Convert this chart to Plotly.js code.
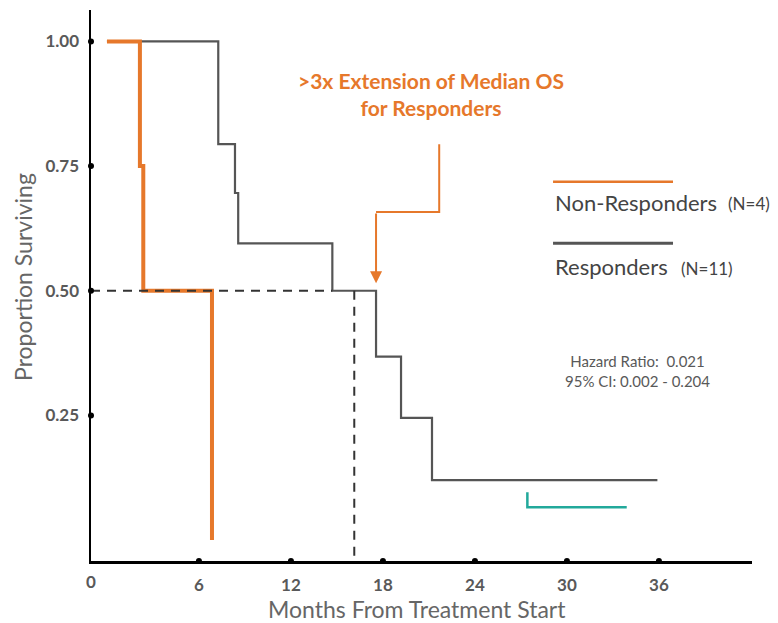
<!DOCTYPE html>
<html>
<head>
<meta charset="utf-8">
<script src="https://cdn.plot.ly/plotly-3.0.1.min.js"></script>
<style>html,body{margin:0;padding:0;background:#fff;}#chart{width:778px;height:623px;}</style>
</head>
<body>
<div id="chart"></div>
<script>
// ---- data ----
const nonRespMonths = [0, 2.15, 2.37, 6.85];
const nonRespSurv   = [1, 0.75, 0.50, 0.0];

const respMonths = [0, 7.26, 8.35, 8.56, 14.7, 17.55, 19.18, 21.2, 35.9];
const respSurv   = [1, 0.794, 0.696, 0.595, 0.50, 0.368, 0.245, 0.12, 0.12];

const medianHX = [-1.04, 14.7];
const medianHY = [0.5, 0.5];
const medianVX = [16.13, 16.13];
const medianVY = [0.5, -0.042];

const tealX = [27.42, 27.42, 33.9];
const tealY = [0.0957, 0.0656, 0.0656];

const calloutX = [21.67, 21.67, 17.55];
const calloutY = [0.794, 0.658, 0.658];
const arrowTip = [17.55, 0.515];

const xTicks = [6, 12, 18, 24, 30, 36];
const yTicks = [0.25, 0.50, 0.75, 1.00];
const yTickText = ['0.25', '0.50', '0.75', '1.00'];

const xRange = [-1.04, 42.07];
const yRange = [-0.042, 1.063];

const ORANGE = '#E6782B';
const GREY = '#555555';
const TEAL = '#22A99B';
const TXT = '#595959';
const FONT = 'Lato, "Open Sans", sans-serif';

const traces = [
  {x: respMonths, y: respSurv, mode: 'lines', line: {shape: 'hv', color: GREY, width: 2.2}, hoverinfo: 'skip'},
  {x: nonRespMonths, y: nonRespSurv, mode: 'lines', line: {shape: 'hv', color: ORANGE, width: 4}, hoverinfo: 'skip'},
  {x: medianHX, y: medianHY, mode: 'lines', line: {color: '#333', width: 2, dash: '9px,7px'}, hoverinfo: 'skip'},
  {x: medianVX, y: medianVY, mode: 'lines', line: {color: '#333', width: 2, dash: '9px,7px'}, hoverinfo: 'skip', cliponaxis: false},
  {x: tealX, y: tealY, mode: 'lines', line: {color: TEAL, width: 2.5}, hoverinfo: 'skip'},
  {x: calloutX, y: calloutY, mode: 'lines', line: {color: ORANGE, width: 2}, hoverinfo: 'skip'},
  // tick dots
  {x: xTicks, y: xTicks.map(() => yRange[0]), mode: 'markers', marker: {color: '#000', size: 6}, cliponaxis: false, hoverinfo: 'skip'},
  {x: yTicks.map(() => xRange[0]), y: yTicks, mode: 'markers', marker: {color: '#000', size: 6}, cliponaxis: false, hoverinfo: 'skip'}
];

function note(x, y, text, font, extra) {
  return Object.assign({xref: 'paper', yref: 'paper', x: x, y: y, text: text, showarrow: false,
    xanchor: 'center', yanchor: 'middle', font: font}, extra || {});
}

const ann = [];
ann.push({x: arrowTip[0], y: arrowTip[1], ax: calloutX[2], ay: calloutY[2], axref: 'x', ayref: 'y', xref: 'x', yref: 'y',
  showarrow: true, arrowhead: 2, arrowsize: 1.2, arrowwidth: 2, arrowcolor: ORANGE, text: ''});
ann.push(note(0.514, 0.847, '>3x Extension of Median OS<br>for Responders',
  {family: FONT, size: 21, color: ORANGE, weight: 'bold'}, {align: 'center'}));
ann.push(note(0.699, 0.65, 'Non-Responders', {family: FONT, size: 22, color: '#444'}, {xanchor: 'left'}));
ann.push(note(0.961, 0.648, '(N=4)', {family: FONT, size: 17, color: '#444'}, {xanchor: 'left'}));
ann.push(note(0.699, 0.535, 'Responders', {family: FONT, size: 22, color: '#444'}, {xanchor: 'left'}));
ann.push(note(0.889, 0.531, '(N=11)', {family: FONT, size: 17, color: '#444'}, {xanchor: 'left'}));
ann.push(note(0.8275, 0.345, 'Hazard Ratio:  0.021<br>95% CI: 0.002 - 0.204',
  {family: FONT, size: 15, color: TXT}, {align: 'center'}));
ann.push(note(0, -0.038, '0', {family: FONT, size: 17, color: TXT, weight: 'bold'}));
ann.push(note(-0.104, 0.516, 'Proportion Surviving', {family: FONT, size: 23, color: '#666'}, {textangle: -90}));
ann.push(note(0.4925, -0.087, 'Months From Treatment Start', {family: FONT, size: 23, color: '#666'}));

const shapes = [
  {type: 'line', xref: 'paper', yref: 'paper', x0: 0.699, x1: 0.8805, y0: 0.6884, y1: 0.6884, line: {color: ORANGE, width: 2.5}},
  {type: 'line', xref: 'paper', yref: 'paper', x0: 0.699, x1: 0.8805, y0: 0.5766, y1: 0.5766, line: {color: GREY, width: 3}}
];

const layout = {
  width: 778, height: 623,
  margin: {l: 91, r: 26, t: 10, b: 62},
  paper_bgcolor: '#fff', plot_bgcolor: '#fff',
  showlegend: false,
  font: {family: FONT, color: TXT},
  xaxis: {range: xRange, tickvals: xTicks, ticktext: xTicks.map(String), showgrid: false, zeroline: false,
    showline: true, linecolor: '#000', linewidth: 2.5, ticks: '', ticklabelstandoff: 7,
    tickfont: {family: FONT, size: 17, color: TXT, weight: 'bold'}},
  yaxis: {range: yRange, tickvals: yTicks, ticktext: yTickText, showgrid: false, zeroline: false,
    showline: true, linecolor: '#000', linewidth: 2.5, ticks: '', ticklabelstandoff: 6,
    tickfont: {family: FONT, size: 17, color: TXT, weight: 'bold'}},
  annotations: ann,
  shapes: shapes
};

Plotly.newPlot('chart', traces, layout, {displayModeBar: false, staticPlot: true});
</script>
</body>
</html>
